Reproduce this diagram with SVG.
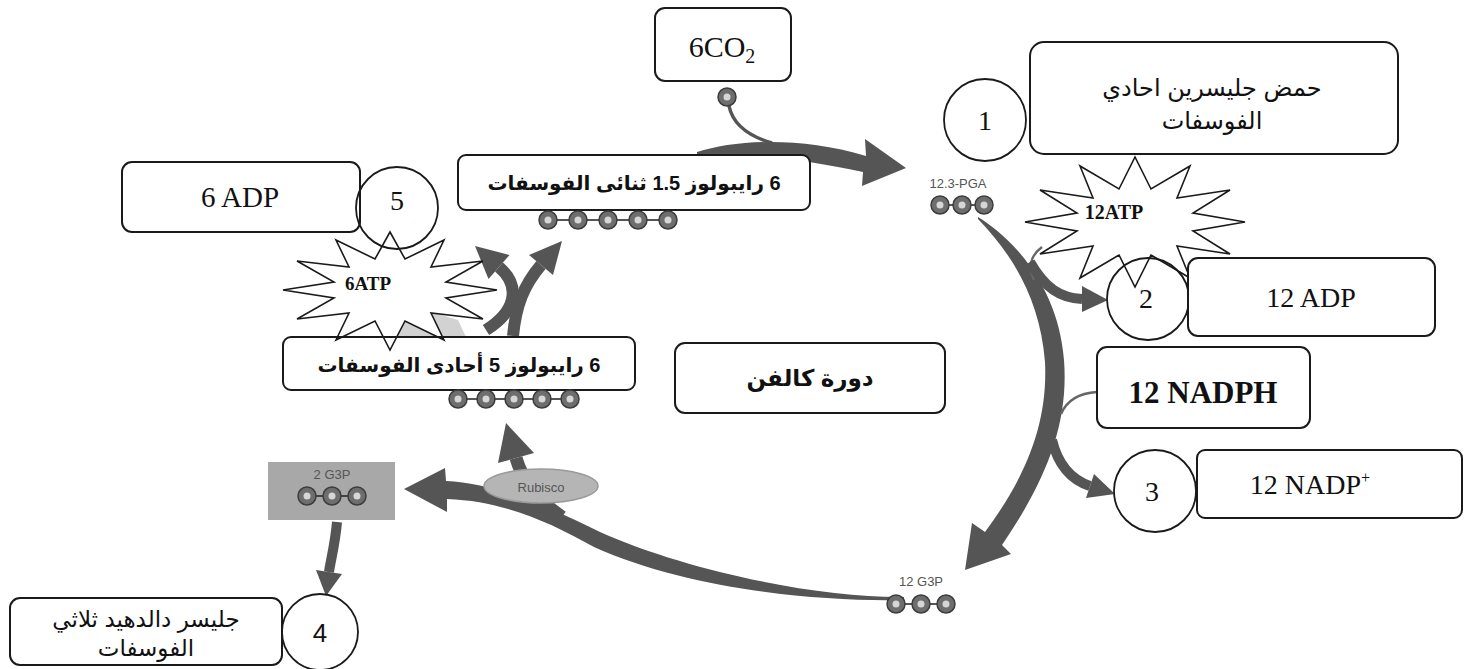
<svg xmlns="http://www.w3.org/2000/svg" width="1470" height="669" viewBox="0 0 1470 669">
<defs>
<style>
.box{fill:#fff;stroke:#1a1a1a;stroke-width:2}
.circ{fill:none;stroke:#1a1a1a;stroke-width:1.8}
.star{fill:#fff;stroke:#1a1a1a;stroke-width:1.6}
.ar{fill:#555}
.ars{fill:none;stroke:#555}
.thin{fill:none;stroke:#666;stroke-width:2.5}
.ser{font-family:"Liberation Serif","DejaVu Serif",serif;fill:#111;text-anchor:middle}
.ara{font-family:"Liberation Sans","DejaVu Sans",sans-serif;fill:#111;text-anchor:middle}
.sm{font-family:"Liberation Sans","DejaVu Sans",sans-serif;fill:#555;font-size:13px;text-anchor:middle}
</style>
<g id="m"><circle r="9" fill="#6e6e6e" stroke="#3c3c3c" stroke-width="1.5"/><circle r="3.5" fill="#d6d6d6"/></g>
</defs>
<rect width="1470" height="669" fill="#fff"/>

<g id="connectors">
  <path class="ars" stroke-width="3.5" d="M 729 106 C 733 125, 748 136, 772 143"/>
  <path class="ar" d="M 697 152 C 735 140, 800 136, 866 156 L 865 139 L 906 168 L 862 186 L 863 172 C 800 158, 740 153, 697 154 Z"/>
  <path class="ar" d="M 978 217 C 1012 238, 1058 285, 1064 360 C 1069 425, 1045 482, 1002 545 L 1011 554 L 965 570 L 972 523 L 985 532 C 1025 478, 1048 425, 1045 362 C 1040 295, 1008 250, 978 219 Z"/>
  <path class="thin" d="M 1042 247 C 1030 256, 1028 268, 1034 280"/>
  <path class="ars" stroke-width="10" d="M 1030 262 C 1045 288, 1060 298, 1082 299"/>
  <polygon class="ar" points="1082,286 1108,300 1082,312"/>
  <path class="thin" d="M 1097 392 C 1080 393, 1067 400, 1061 414"/>
  <path class="ars" stroke-width="10" d="M 1052 440 C 1058 465, 1072 480, 1090 486"/>
  <polygon class="ar" points="1094,474 1115,494 1086,498"/>
  <path class="ar" d="M 904 597 C 820 598, 690 572, 600 532 C 560 513, 505 484, 446 481 L 445 468 L 404 489 L 447 512 L 447 499 C 503 501, 550 522, 594 547 C 690 590, 820 602, 904 600 Z"/>
  <path class="ars" stroke-width="13" d="M 562 517 C 540 502, 523 482, 516 458"/>
  <polygon class="ar" points="534,453 506,423 498,463"/>
  <path class="ars" stroke-width="10" d="M 337 522 C 335 545, 331 558, 329 572"/>
  <polygon class="ar" points="316,570 326,596 342,574"/>
  <path class="ars" stroke-width="12" d="M 486 330 C 515 312, 522 287, 499 267"/>
  <polygon class="ar" points="509.5,255 475,246 488.5,279"/>
  <path class="ars" stroke-width="12" d="M 513 336 C 516 305, 524 285, 541 265"/>
  <polygon class="ar" points="553,275 562,241 529,255"/>
</g>

<g id="co2">
  <rect class="box" x="655" y="8" width="136" height="73" rx="10"/>
  <text class="ser" x="722" y="57" font-size="30">6CO<tspan font-size="20" dy="6">2</tspan></text>
  <use href="#m" x="727" y="97"/>
</g>

<g id="pga-box">
  <rect class="box" x="1030" y="42" width="368" height="112" rx="14"/>
  <text class="ara" x="1212" y="96" font-size="24" direction="rtl">حمض جليسرين احادي</text>
  <text class="ara" x="1212" y="129" font-size="24" direction="rtl">الفوسفات</text>
</g>
<g id="n1">
  <circle class="circ" cx="985" cy="120" r="41"/>
  <text class="ser" x="985" y="130" font-size="28">1</text>
</g>
<g id="pga">
  <text class="sm" x="958" y="188">12.3-PGA</text>
  <line x1="940" y1="205" x2="984" y2="205" stroke="#555" stroke-width="2"/>
  <use href="#m" x="940" y="205"/><use href="#m" x="962" y="205"/><use href="#m" x="984" y="205"/>
</g>

<g id="atp12">
  <polygon class="star" points="1245,222 1193,231 1230,254 1177,246 1190,278 1151,255 1135,287 1119,255 1080,278 1093,246 1040,254 1077,231 1025,222 1077,213 1040,190 1093,198 1080,166 1119,189 1135,157 1151,189 1190,166 1177,198 1230,190 1193,213"/>
  <text class="ser" x="1114" y="219" font-size="20" font-weight="bold">12ATP</text>
</g>
<g id="n2">
  <circle class="circ" cx="1148" cy="299" r="41"/>
  <text class="ser" x="1146" y="308" font-size="28">2</text>
</g>
<g id="adp12">
  <rect class="box" x="1188" y="258" width="247" height="78" rx="10"/>
  <text class="ser" x="1311" y="307" font-size="28">12 ADP</text>
</g>
<g id="nadph">
  <rect class="box" x="1097" y="347" width="213" height="81" rx="10"/>
  <text class="ser" x="1203" y="403" font-size="31" font-weight="bold">12 NADPH</text>
</g>
<g id="n3">
  <circle class="circ" cx="1155" cy="491" r="41"/>
  <text class="ser" x="1152" y="501" font-size="28">3</text>
</g>
<g id="nadp">
  <rect class="box" x="1197" y="450" width="265" height="68" rx="8"/>
  <text class="ser" x="1310" y="494" font-size="28">12 NADP<tspan font-size="16" dy="-11">+</tspan></text>
</g>
<g id="g3p12">
  <text class="sm" x="921" y="586" font-size="14">12 G3P</text>
  <line x1="896" y1="604" x2="946" y2="604" stroke="#555" stroke-width="2"/>
  <use href="#m" x="896" y="604"/><use href="#m" x="921" y="604"/><use href="#m" x="946" y="604"/>
</g>

<g id="calvin">
  <rect class="box" x="675" y="343" width="270" height="70" rx="10"/>
  <text class="ara" x="810" y="386" font-size="23" font-weight="bold" direction="rtl">دورة  كالفن</text>
</g>

<g id="rubp">
  <rect class="box" x="458" y="155" width="352" height="55" rx="8"/>
  <text class="ara" x="634" y="190" font-size="20" font-weight="bold" direction="rtl">6 رايبولوز 1.5 ثنائى الفوسفات</text>
  <line x1="548" y1="220" x2="668" y2="220" stroke="#555" stroke-width="2"/>
  <use href="#m" x="548" y="220"/><use href="#m" x="578" y="220"/><use href="#m" x="608" y="220"/><use href="#m" x="638" y="220"/><use href="#m" x="668" y="220"/>
</g>

<g id="adp6">
  <rect class="box" x="122" y="162" width="238" height="70" rx="10"/>
  <text class="ser" x="240" y="207" font-size="29">6 ADP</text>
</g>

<g id="atp6">
  <polygon points="385,337 412,306 458,320 466,337" fill="#d2d2d2"/>
  <polygon class="star" points="497,290 446,298 483,319 431,313 444,340 405,321 390,350 375,321 336,340 349,313 297,319 334,298 283,290 334,282 297,261 349,267 336,240 375,259 390,232 405,259 444,240 431,267 483,261 446,282"/>
  <text class="ser" x="368" y="290" font-size="19" font-weight="bold">6ATP</text>
</g>
<g id="n5">
  <circle class="circ" cx="397" cy="208" r="41"/>
  <text class="ser" x="397" y="210" font-size="28">5</text>
</g>

<g id="ru5p">
  <rect class="box" x="283" y="337" width="352" height="53" rx="8" fill-opacity="0"/>
  <text class="ara" x="459" y="372" font-size="20" font-weight="bold" direction="rtl">6 رايبولوز 5 أحادى الفوسفات</text>
  <line x1="458" y1="399" x2="570" y2="399" stroke="#555" stroke-width="2"/>
  <use href="#m" x="458" y="399"/><use href="#m" x="486" y="399"/><use href="#m" x="514" y="399"/><use href="#m" x="542" y="399"/><use href="#m" x="570" y="399"/>
</g>

<g id="rubisco">
  <ellipse cx="541" cy="486" rx="57" ry="17" fill="#b5b5b5" stroke="#9a9a9a" stroke-width="1.5"/>
  <text class="sm" x="541" y="492" font-size="17" fill="#444">Rubisco</text>
</g>

<g id="g3p2">
  <rect x="268" y="462" width="127" height="58" fill="#a8a8a8"/>
  <text class="sm" x="332" y="479" font-size="14" fill="#444">2 G3P</text>
  <line x1="307" y1="496" x2="357" y2="496" stroke="#444" stroke-width="2"/>
  <use href="#m" x="307" y="496"/><use href="#m" x="332" y="496"/><use href="#m" x="357" y="496"/>
</g>

<g id="g3p-box">
  <rect class="box" x="10" y="598" width="272" height="67" rx="10"/>
  <text class="ara" x="146" y="627" font-size="23" direction="rtl">جليسر دالدهيد ثلاثي</text>
  <text class="ara" x="146" y="656" font-size="23" direction="rtl">الفوسفات</text>
</g>
<g id="n4">
  <circle class="circ" cx="320" cy="632" r="38"/>
  <text class="ara" x="320" y="642" font-size="26">4</text>
</g>
</svg>
